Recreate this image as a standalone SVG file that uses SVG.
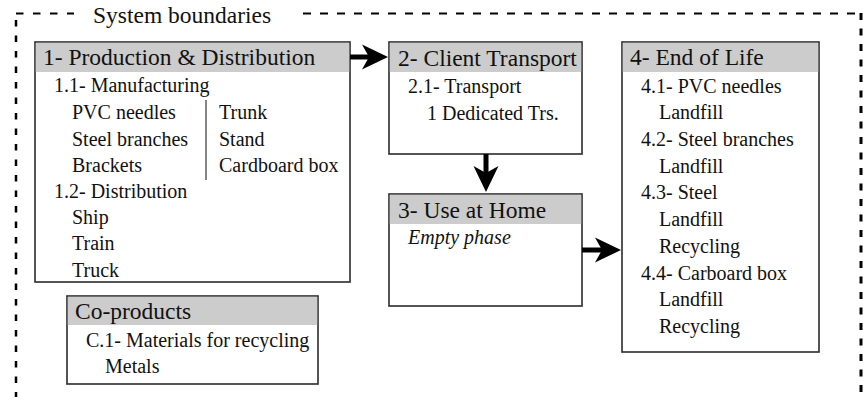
<svg xmlns="http://www.w3.org/2000/svg" width="863" height="397" viewBox="0 0 863 397">
  <style>
    text { font-family: "Liberation Serif", "Times New Roman", serif; fill: #111; }
    .hd { font-size: 23.5px; }
    .it { font-size: 20px; }
    .em { font-size: 20px; font-style: italic; }
    .frame { fill: #fff; stroke: #2b2b2b; stroke-width: 1.6; }
    .band { fill: #cccccc; }
    .bound { fill: none; stroke: #000; }
    .link { fill: none; stroke: #000; stroke-width: 5; }
  </style>
  <defs>
    <marker id="head" markerUnits="userSpaceOnUse" markerWidth="28" markerHeight="26" refX="8" refY="12.5" orient="auto" overflow="visible">
      <path d="M0,0 L26,12.5 L0,25 L7,12.5 Z" fill="#000"/>
    </marker>
    <clipPath id="clip2"><rect x="389" y="42" width="193" height="30"/></clipPath>
  </defs>

  <rect width="863" height="397" fill="#fff"/>

  <!-- system boundary (open at the bottom) -->
  <g id="boundary">
    <path class="bound" d="M16,13.5 H74" stroke-width="2" stroke-dasharray="7.5 9.5"/>
    <path class="bound" d="M303,13.5 H858" stroke-width="2" stroke-dasharray="8 9"/>
    <path class="bound" d="M16,20 V397" stroke-width="2.5" stroke-dasharray="6.5 9"/>
    <path class="bound" d="M861,13 V397" stroke-width="3" stroke-dasharray="7 8.5"/>
    <text class="hd" x="93" y="23">System boundaries</text>
  </g>

  <!-- 1 -->
  <g id="production">
    <rect class="frame" x="35" y="42" width="315" height="240"/>
    <rect class="band" x="35.8" y="42.8" width="313.4" height="29.2"/>
    <text class="hd" x="43" y="65">1- Production &amp; Distribution</text>
    <text class="it" x="54" y="92">1.1- Manufacturing</text>
    <text class="it" x="72" y="119">PVC needles</text>
    <text class="it" x="72" y="146">Steel branches</text>
    <text class="it" x="72" y="172">Brackets</text>
    <line x1="206" y1="100" x2="206" y2="180" stroke="#333" stroke-width="1.2"/>
    <text class="it" x="219" y="119">Trunk</text>
    <text class="it" x="219" y="146">Stand</text>
    <text class="it" x="219" y="172">Cardboard box</text>
    <text class="it" x="54" y="198">1.2- Distribution</text>
    <text class="it" x="72" y="224">Ship</text>
    <text class="it" x="72" y="250">Train</text>
    <text class="it" x="72" y="277">Truck</text>
  </g>

  <!-- 2 -->
  <g id="client-transport">
    <rect class="frame" x="389" y="42" width="193" height="112"/>
    <rect class="band" x="389.8" y="42.8" width="191.4" height="29.2"/>
    <text class="hd" x="398" y="66" clip-path="url(#clip2)">2- Client Transport</text>
    <text class="it" x="408" y="93">2.1- Transport</text>
    <text class="it" x="427" y="120">1 Dedicated Trs.</text>
  </g>

  <!-- 3 -->
  <g id="use-at-home">
    <rect class="frame" x="389" y="194" width="193" height="112"/>
    <rect class="band" x="389.8" y="194.8" width="191.4" height="29.2"/>
    <text class="hd" x="398" y="218">3- Use at Home</text>
    <text class="em" x="408" y="244">Empty phase</text>
  </g>

  <!-- 4 -->
  <g id="end-of-life">
    <rect class="frame" x="622" y="42" width="197" height="310"/>
    <rect class="band" x="622.8" y="42.8" width="195.4" height="29.2"/>
    <text class="hd" x="630" y="65">4- End of Life</text>
    <text class="it" x="641" y="93">4.1- PVC needles</text>
    <text class="it" x="659" y="119">Landfill</text>
    <text class="it" x="641" y="146">4.2- Steel branches</text>
    <text class="it" x="659" y="173">Landfill</text>
    <text class="it" x="641" y="199">4.3- Steel</text>
    <text class="it" x="659" y="226">Landfill</text>
    <text class="it" x="659" y="253">Recycling</text>
    <text class="it" x="641" y="280">4.4- Carboard box</text>
    <text class="it" x="659" y="306">Landfill</text>
    <text class="it" x="659" y="333">Recycling</text>
  </g>

  <!-- co-products -->
  <g id="co-products">
    <rect class="frame" x="67" y="296" width="251" height="88"/>
    <rect class="band" x="67.8" y="296.8" width="249.4" height="28.2"/>
    <text class="hd" x="75" y="319">Co-products</text>
    <text class="it" x="86" y="347">C.1- Materials for recycling</text>
    <text class="it" x="105" y="373">Metals</text>
  </g>

  <!-- connectors -->
  <g id="connectors">
    <line class="link" x1="350" y1="57" x2="370" y2="57" marker-end="url(#head)"/>
    <line class="link" x1="486" y1="154" x2="486" y2="174" marker-end="url(#head)"/>
    <line class="link" x1="582" y1="250" x2="603" y2="250" marker-end="url(#head)"/>
  </g>
</svg>
